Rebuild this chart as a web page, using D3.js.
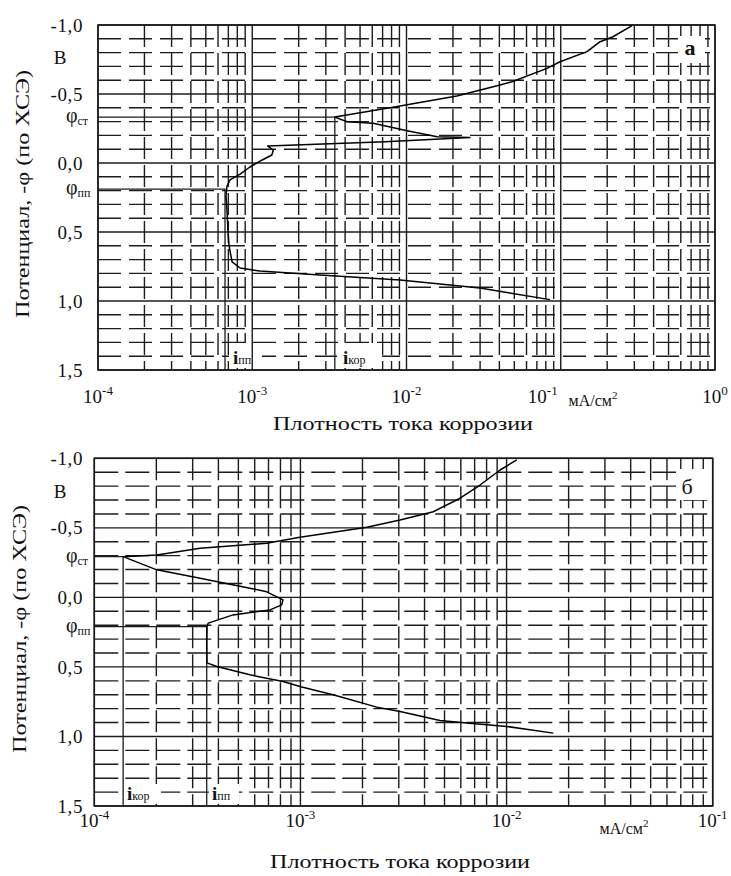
<!DOCTYPE html>
<html><head><meta charset="utf-8">
<script src="https://cdn.jsdelivr.net/npm/d3@7"></script>
<style>
body{margin:0;background:#fff}
svg{display:block}
</style>
</head><body>
<svg id="c" width="731" height="876"></svg>
<script>
// ---- data ----
const yTickValues = [-1.0, -0.5, 0.0, 0.5, 1.0, 1.5];
const yTickLabels = ["-1,0", "-0,5", "0,0", "0,5", "1,0", "1,5"];
const topXExponents = ["-4", "-3", "-2", "-1", "0"];
const botXExponents = ["-4", "-3", "-2", "-1"];

// panel "а": current density (mA/cm2) vs potential (V)
const topCurrent = [0.0851, 0.0299, 0.00908, 0.00275, 0.00112, 0.000834, 0.00074, 0.000706, 0.000696, 0.000686,
  0.000676, 0.000686, 0.000718, 0.000834, 0.000966, 0.00116, 0.00134, 0.00137, 0.00126, 0.00727,
  0.0258, 0.0158, 0.0101, 0.00607, 0.00411, 0.00343, 0.00816, 0.0212, 0.0404, 0.0483,
  0.0815, 0.0989, 0.148, 0.18, 0.218, 0.29];
const topPotential = [0.99, 0.906, 0.848, 0.812, 0.783, 0.761, 0.717, 0.594, 0.486, 0.341,
  0.239, 0.167, 0.123, 0.080, 0.029, -0.022, -0.058, -0.094, -0.123, -0.154,
  -0.185, -0.191, -0.234, -0.288, -0.299, -0.333, -0.404, -0.486, -0.565, -0.589,
  -0.686, -0.734, -0.807, -0.879, -0.915, -0.995];
const topPhiSt = -0.333, topPhiPp = 0.19, topIkor = 0.00343, topIpp = 0.000666;

// panel "б"
const botCurrent = [0.01121, 0.0093, 0.00744, 0.00595, 0.00441, 0.00304, 0.0021, 0.000995, 0.000686, 0.000326,
  0.000201, 0.000138, 0.000201, 0.000326, 0.000569, 0.000686, 0.000823, 0.000811, 0.000712, 0.000471,
  0.000357, 0.000352, 0.000351, 0.000352, 0.000393, 0.000569, 0.000823, 0.001015, 0.00144, 0.002346,
  0.00304, 0.004756, 0.00641, 0.01002, 0.01687];
const botPotential = [-0.988, -0.916, -0.808, -0.713, -0.616, -0.557, -0.504, -0.432, -0.389, -0.353,
  -0.305, -0.293, -0.198, -0.138, -0.066, -0.040, 0.018, 0.054, 0.090, 0.126,
  0.185, 0.212, 0.341, 0.471, 0.497, 0.557, 0.605, 0.645, 0.700, 0.789,
  0.820, 0.885, 0.904, 0.928, 0.976];
const botPhiSt = -0.293, botPhiPp = 0.21, botIkor = 0.000138, botIpp = 0.000351;

const yTitle = "Потенциал, -φ (по ХСЭ)";
const xTitle = "Плотность тока коррозии";
const unitLabel = "мА/см";

const svg = d3.select("#c");
const INK = "#1c1c1c";
const FONT = "Liberation Serif";

function txt(sel, size) {
  return sel.append("text")
    .style("font-family", FONT)
    .style("font-size", size + "px")
    .style("fill", "#111");
}

function panel(cfg) {
  const g = svg.append("g");
  const x = d3.scaleLog().domain(cfg.xDomain).range([cfg.left, cfg.right]);
  const y = d3.scaleLinear().domain([-1, 1.5]).range([cfg.top, cfg.bottom]);

  const e0 = Math.round(Math.log10(cfg.xDomain[0])), e1 = Math.round(Math.log10(cfg.xDomain[1]));
  const minorX = [];
  for (let e = e0; e < e1; e++) for (let k = 2; k <= 9; k++) minorX.push(k * Math.pow(10, e));
  const majorX = d3.range(e0, e1 + 1).map(e => Math.pow(10, e));
  const minorY = d3.range(-9, 15).map(v => v / 10).filter(v => Math.abs(v * 2 - Math.round(v * 2)) > 1e-6);

  // minor grid (dashed)
  g.append("g").selectAll("line").data(minorY).join("line")
    .attr("x1", cfg.left).attr("x2", cfg.right)
    .attr("y1", d => y(d)).attr("y2", d => y(d))
    .attr("stroke", INK).attr("stroke-width", 1.4)
    .attr("stroke-dasharray", cfg.hDash);
  g.append("g").selectAll("line").data(minorX).join("line")
    .attr("x1", d => x(d)).attr("x2", d => x(d))
    .attr("y1", cfg.top).attr("y2", cfg.bottom)
    .attr("stroke", INK).attr("stroke-width", 1.4)
    .attr("stroke-dasharray", cfg.vDash);

  // white label boxes (interrupt grid)
  cfg.boxes.forEach(b => g.append("rect").attr("x", b[0]).attr("y", b[1]).attr("width", b[2]).attr("height", b[3]).attr("fill", "#fff"));

  // major grid
  g.append("g").selectAll("line").data(yTickValues).join("line")
    .attr("x1", cfg.left).attr("x2", cfg.right)
    .attr("y1", d => y(d)).attr("y2", d => y(d))
    .attr("stroke", INK).attr("stroke-width", 1.4);
  g.append("g").selectAll("line").data(majorX).join("line")
    .attr("x1", d => x(d)).attr("x2", d => x(d))
    .attr("y1", cfg.top).attr("y2", cfg.bottom)
    .attr("stroke", INK).attr("stroke-width", 1.4);
  g.append("rect").attr("x", cfg.left).attr("y", cfg.top)
    .attr("width", cfg.right - cfg.left).attr("height", cfg.bottom - cfg.top)
    .attr("fill", "none").attr("stroke", INK).attr("stroke-width", 1.6);

  // phi / i construction lines
  g.append("path").attr("fill", "none").attr("stroke", INK).attr("stroke-width", 1.3)
    .attr("d", `M${cfg.left},${y(cfg.phiSt)}H${x(cfg.iKor)}V${cfg.bottom}`);
  g.append("path").attr("fill", "none").attr("stroke", INK).attr("stroke-width", 1.3)
    .attr("d", `M${cfg.left},${y(cfg.phiPp)}H${x(cfg.iPp)}V${cfg.bottom}`);

  // curve
  const pts = cfg.current.map((c, i) => [c, cfg.potential[i]]);
  g.append("path").datum(pts)
    .attr("fill", "none").attr("stroke", "#000").attr("stroke-width", 1.5)
    .attr("stroke-linejoin", "round")
    .attr("d", d3.line().x(d => x(d[0])).y(d => y(d[1])));

  // y axis labels (d3 axis, styled)
  const ax = d3.axisLeft(y).tickValues(yTickValues).tickFormat((d, i) => yTickLabels[i])
    .tickSize(0).tickPadding(cfg.left - 83);
  const axg = g.append("g").attr("transform", `translate(${cfg.left},0)`).call(ax);
  axg.attr("font-family", null).attr("font-size", null);
  axg.select(".domain").remove();
  axg.selectAll("text")
    .style("font-family", FONT).style("font-size", "19px").style("fill", "#111")
    .style("letter-spacing", "0.6px");

  txt(g, 19).attr("x", 60).attr("y", y(-0.76) + 6).attr("text-anchor", "middle").text("В");
  const phiLabel = (v, sub) => {
    const t = txt(g, 20).attr("x", 66).attr("y", y(v) + 5);
    t.append("tspan").text("φ");
    t.append("tspan").style("font-size", "12px").attr("dy", 3).text(sub);
  };
  phiLabel(cfg.phiSt, "ст");
  phiLabel(cfg.phiPp, "пп");

  // x tick labels
  cfg.exps.forEach((ex, i) => {
    const t = txt(g, 19).attr("x", x(Math.pow(10, +ex)) + (cfg.xShift[i] || 0))
      .attr("y", cfg.tickBaseline).attr("text-anchor", "middle");
    t.append("tspan").text("10");
    t.append("tspan").style("font-size", "13px").attr("dy", -8).text(ex);
  });
  const u = txt(g, 16).attr("x", cfg.unitX).attr("y", cfg.unitBaseline).attr("text-anchor", "middle");
  u.append("tspan").text(unitLabel);
  u.append("tspan").style("font-size", "11px").attr("dy", -7).text("2");

  txt(g, 19).attr("x", cfg.xTitleX).attr("y", cfg.xTitleY).attr("text-anchor", "middle")
    .attr("textLength", 260).attr("lengthAdjust", "spacingAndGlyphs").text(xTitle);
  txt(g, 19).attr("transform", `translate(${cfg.yTitleX},${cfg.yTitleCY}) rotate(-90)`)
    .attr("text-anchor", "middle")
    .attr("textLength", 248).attr("lengthAdjust", "spacingAndGlyphs").text(yTitle);

  // i labels
  const iLabel = (px, sub) => {
    const t = txt(g, 19).attr("x", px).attr("y", cfg.iBaseline);
    t.append("tspan").style("font-weight", "bold").text("i");
    t.append("tspan").style("font-size", "12px").text(sub);
  };
  iLabel(cfg.iPpX, "пп");
  iLabel(cfg.iKorX, "кор");

  txt(g, 22).attr("x", cfg.letterX).attr("y", cfg.letterY).attr("text-anchor", "middle")
    .style("font-weight", cfg.letterBold ? "bold" : "normal").text(cfg.letter);
}

panel({
  xDomain: [1e-4, 1], left: 98, right: 715, top: 25, bottom: 370,
  hDash: "23,8", vDash: "22,6",
  current: topCurrent, potential: topPotential,
  phiSt: topPhiSt, phiPp: topPhiPp, iKor: topIkor, iPp: topIpp,
  exps: topXExponents, xShift: [0, 0, 0, -18, 0], tickBaseline: 403,
  unitX: 593, unitBaseline: 406, xTitleX: 403, xTitleY: 430,
  yTitleX: 29, yTitleCY: 194,
  iBaseline: 364, iPpX: 233, iKorX: 343,
  boxes: [[678, 36, 27, 27], [229, 343, 33, 25], [337, 343, 45, 25]],
  letter: "а", letterX: 690, letterY: 55, letterBold: true
});

panel({
  xDomain: [1e-4, 1e-1], left: 94.3, right: 712.7, top: 458.3, bottom: 806,
  hDash: "24,7", vDash: "22,6",
  current: botCurrent, potential: botPotential,
  phiSt: botPhiSt, phiPp: botPhiPp, iKor: botIkor, iPp: botIpp,
  exps: botXExponents, xShift: [0, 0, 0, 0], tickBaseline: 827,
  unitX: 624, unitBaseline: 834, xTitleX: 400, xTitleY: 868,
  yTitleX: 26, yTitleCY: 629,
  iBaseline: 800, iPpX: 212, iKorX: 127,
  boxes: [[676, 469, 32, 31], [209, 784, 30, 20], [125, 784, 36, 20]],
  letter: "б", letterX: 687, letterY: 494, letterBold: false
});
</script>
</body></html>
